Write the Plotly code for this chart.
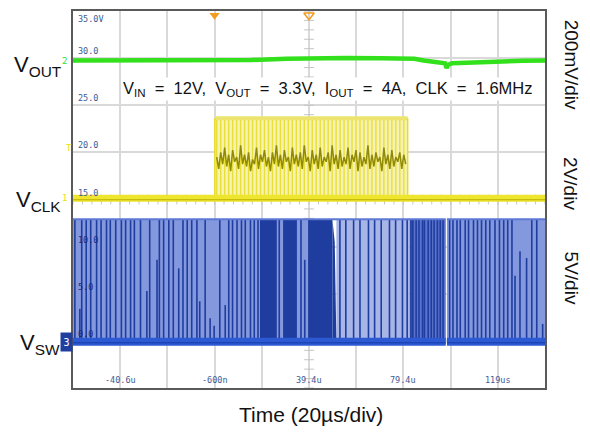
import numpy as np
import plotly.graph_objects as go

# ---------------- data ----------------
# scope screen: time in µs, vertical screen units (5 units per division)
t_left, t_right = -60.6, 139.4
time_label_vals = [-40.6, -0.6, 39.4, 79.4, 119.4]
time_label_text = ["-40.6u", "-600n", "39.4u", "79.4u", "119us"]
screen_label_vals = [35, 30, 25, 20, 15, 10, 5, 0]
screen_label_text = ["35.0V", "30.0", "25.0", "20.0", "15.0", "10.0", "5.0", "0.0"]

# channel offsets (screen units) and scales (per division)
vout_offset, vout_mv_per_div = 29.75, 200.0
clk_offset, clk_v_per_div = 15.0, 2.0
sw_offset, sw_v_per_div = 0.0, 5.0
clk_trigger_v = 1.7

# VOUT (ch2): deviation from 3.3 V in mV
vout_t = [-60.6, -0.5, 15, 30, 40, 55, 70, 84, 88, 92, 95.5, 97.0, 97.7, 98.4, 100, 104, 112, 122, 130, 139.4]
vout_mv = [0, 0, 2, 7, 10, 11, 10, 7, 0, -5, -7, -12, -32, -18, -12, -10, -8, -4, -1, 0]

# CLK (ch1)
clk_low_v, clk_high_v = 0.05, 3.45
clk_burst_start, clk_burst_end = -0.5, 81.2
clk_mid_v = [1.8, 1.3, 2.0, 1.5, 2.2, 1.4, 1.9, 1.2, 2.1, 1.6, 1.8, 1.3, 2.3, 1.5, 1.9, 1.4,
             2.0, 1.2, 1.7, 1.5, 2.2, 1.3, 1.9, 1.6, 2.1, 1.4, 1.8, 1.2, 2.0, 1.5, 2.3, 1.4,
             1.9, 1.3, 2.1, 1.6, 1.8, 1.2, 2.2, 1.5, 1.9, 1.4, 2.0, 1.3, 2.3, 1.6, 1.8, 1.2,
             2.1, 1.5, 1.9, 1.3, 2.2, 1.4, 1.8, 1.6, 2.0, 1.2, 2.3, 1.5, 1.9, 1.3, 2.1, 1.4,
             1.8, 1.5, 2.2, 1.3, 1.9, 1.6, 2.1, 1.2, 2.0, 1.4, 1.8, 1.5, 2.3, 1.3, 1.9, 1.4,
             2.0, 1.6, 1.8, 1.2, 2.2, 1.5, 1.9, 1.3, 2.1, 1.4, 1.8, 1.6, 2.0, 1.3, 1.9, 1.5]

# VSW (ch3)
sw_low_v, sw_high_v = 0.0, 12.9
sw_seg_start = [-60.6, 97.85]
sw_seg_end = [97.35, 139.4]
sw_zone_start = [-60.6, 25.8, 34.3, 51.0, 82.0, 97.85]
sw_zone_end = [18.6, 28.4, 39.0, 82.0, 97.35, 139.4]
sw_zone_kind = ["mid", "mid", "mid", "light", "dense", "mid"]
sw_block_start = [18.6, 28.4, 39.0]
sw_block_end = [25.8, 34.3, 49.3]
sw_tail_t = [49.3, 50.3, 51.0]
sw_tail_v = [12.9, 10.5, 0.0]
sw_pulse_t = [-59.8, -57.7, -56.9, -55.0, -53.1, -50.6, -48.7, -46.4, -44.8, -42.5, -40.1, -38.3,
              -36.2, -34.6, -32.0, -29.3, -28.1, -25.0, -24.0, -22.2, -20.0, -18.1, -15.8, -14.0,
              -12.2, -10.3, -8.1, -6.9, -4.6, -2.5, -0.8, 1.6, 3.9, 5.4, 7.0, 8.9, 10.8, 12.4,
              14.6, 16.2, 17.8, 26.8, 36.0, 37.6, 52.5, 55.0, 58.3, 61.0, 64.6, 67.2, 70.0,
              73.5, 76.1, 79.0, 81.0, 82.6, 83.4, 84.8, 86.0, 87.5, 88.3, 89.9, 91.2, 92.4,
              93.8, 95.0, 96.2, 99.0, 100.4, 102.1, 103.5, 105.6, 107.0, 109.1, 110.8, 112.5,
              114.3, 116.0, 118.2, 120.1, 121.9, 123.6, 125.4, 126.7, 128.8, 131.6, 133.8,
              135.9, 138.4]
sw_pulse_top = [12.9, 3.4, 12.9, 12.9, 12.9, 12.9, 12.9, 12.9, 12.9, 12.9, 12.9, 12.9,
                12.9, 12.9, 12.9, 5.3, 12.9, 8.6, 12.9, 12.9, 12.9, 12.9, 7.7, 12.9,
                12.9, 12.9, 12.9, 4.2, 12.9, 2.4, 1.6, 12.9, 3.8, 12.9, 12.9, 12.9, 12.9, 12.9,
                12.9, 12.9, 12.9, 12.9, 12.9, 8.6, 12.9, 12.9, 12.9, 12.9, 12.9, 12.9, 12.9,
                12.9, 12.9, 12.9, 12.9, 12.9, 12.9, 12.9, 12.9, 12.9, 12.9, 12.9, 12.9, 12.9,
                12.9, 12.9, 12.9, 12.9, 12.9, 12.9, 12.9, 12.9, 12.9, 12.9, 12.9, 12.9,
                12.9, 12.9, 12.9, 12.9, 12.9, 12.9, 12.9, 6.9, 9.5, 8.8, 12.9,
                12.9, 1.8]

# ---------------- styles ----------------
GREEN = "#33e01c"
YEL = "#eee52e"
YEL_PALE = "#f6f2b2"
OLIVE = "#908a06"
BLUE_DARK = "#1f3d9f"
BLUE_BAND = "#2d5ad2"
zone_color = {"mid": "#8498de", "light": "#a8b5e7", "dense": "#5a73cc"}
LABEL = "#3e5a96"
FONT = "Liberation Sans, Arial, sans-serif"
MONO = "DejaVu Sans Mono, monospace"

L, R, T, B = 73, 45, 9, 44
W, H = 590, 432
PW, PH = W - L - R, H - T - B


def scr(v, off, per_div):
    return (off + np.asarray(v, dtype=float) / per_div * 5.0).tolist()


def px(xp):
    return (xp - L) / PW


def py(yp):
    return (H - B - yp) / PH


traces = []


def poly(xs, ys, color):
    traces.append(go.Scatter(x=xs, y=ys, mode="lines", fill="toself", fillcolor=color,
                             line=dict(width=0), hoverinfo="skip", showlegend=False))


def line(xs, ys, color, width):
    traces.append(go.Scatter(x=xs, y=ys, mode="lines", line=dict(color=color, width=width),
                             hoverinfo="skip", showlegend=False, connectgaps=False))


# center crosshair ticks
xc = (t_left + t_right) / 2
yc = 15.0
traces.append(go.Scatter(x=[xc] * 41, y=list(np.arange(-5, 35.01, 1.0)), mode="markers",
                         marker=dict(symbol="line-ew", size=7, line=dict(width=1, color="#c4c4c4")),
                         hoverinfo="skip", showlegend=False))
traces.append(go.Scatter(x=list(np.arange(t_left, t_right + 0.01, 4.0)), y=[yc] * 51, mode="markers",
                         marker=dict(symbol="line-ns", size=7, line=dict(width=1, color="#c4c4c4")),
                         hoverinfo="skip", showlegend=False))

# ---- VSW ----
sw_lo = scr(sw_low_v, sw_offset, sw_v_per_div)
sw_hi = scr(sw_high_v, sw_offset, sw_v_per_div)
for a, b, k in zip(sw_zone_start, sw_zone_end, sw_zone_kind):
    poly([a, b, b, a, a], [sw_lo, sw_lo, sw_hi, sw_hi, sw_lo], zone_color[k])
for a, b in zip(sw_block_start, sw_block_end):
    poly([a, b, b, a, a], [sw_lo, sw_lo, sw_hi, sw_hi, sw_lo], BLUE_DARK)
tail_y = scr(sw_tail_v, sw_offset, sw_v_per_div)
poly([sw_tail_t[0]] + sw_tail_t + [sw_tail_t[0]], [sw_lo] + tail_y + [sw_lo], BLUE_DARK)
px_x, px_y = [], []
for t, top in zip(sw_pulse_t, sw_pulse_top):
    px_x += [t, t, None]
    px_y += [sw_lo, scr(top, sw_offset, sw_v_per_div), None]
line(px_x, px_y, BLUE_DARK, 1.6)
for a, b in zip(sw_seg_start, sw_seg_end):
    line([a, b], [sw_hi, sw_hi], "#5d79d4", 2)
    line([a, b], [sw_lo - 0.1, sw_lo - 0.1], BLUE_BAND, 8)
    line([a, b], [sw_lo - 0.2, sw_lo - 0.2], "#1c44b8", 1.5)

# ---- CLK ----
c_lo = scr(clk_low_v, clk_offset, clk_v_per_div)
c_hi = scr(clk_high_v, clk_offset, clk_v_per_div)
b0, b1 = clk_burst_start, clk_burst_end
poly([b0, b1, b1, b0, b0], [c_lo, c_lo, c_hi, c_hi, c_lo], YEL_PALE)
st = np.linspace(b0 + 0.8, b1 - 0.8, len(clk_mid_v)).tolist()
sx, sy = [], []
for t in st[::2]:
    sx += [t, t, None]
    sy += [c_lo, c_hi, None]
line(sx, sy, "#e9df3a", 1.4)
line(st, scr(clk_mid_v, clk_offset, clk_v_per_div), OLIVE, 1.5)
line([b0, b1], [c_hi, c_hi], "#ece46e", 4)
line([b0, b0], [c_lo, c_hi], "#e6dc2a", 1.5)
line([b1, b1], [c_lo, c_hi], "#e6dc2a", 1.5)
line([t_left, t_right], [c_lo, c_lo], YEL, 7)
line([t_left, t_right], [c_lo - 0.15, c_lo - 0.15], "#bdb100", 1)

# ---- VOUT ----
line(vout_t, scr(vout_mv, vout_offset, vout_mv_per_div), GREEN, 4.5)

# trigger markers at top
traces.append(go.Scatter(x=[-0.6], y=[34.55], mode="markers", cliponaxis=False,
                         marker=dict(symbol="triangle-down", size=9, color="#f39c1e"),
                         hoverinfo="skip", showlegend=False))
traces.append(go.Scatter(x=[xc], y=[34.55], mode="markers", cliponaxis=False,
                         marker=dict(symbol="triangle-down-open", size=9, color="#f39c1e",
                                     line=dict(width=1.5)),
                         hoverinfo="skip", showlegend=False))
# channel ground / trigger-level markers at left edge
traces.append(go.Scatter(x=[t_left - 0.9, t_left - 0.9, t_left - 0.9],
                         y=[scr(0, vout_offset, vout_mv_per_div), c_lo,
                            scr(clk_trigger_v, clk_offset, clk_v_per_div)], mode="markers",
                         cliponaxis=False,
                         marker=dict(symbol="triangle-right", size=7, color=[GREEN, "#e8de10", "#e8de10"]),
                         hoverinfo="skip", showlegend=False))

fig = go.Figure(traces)

ann = []
for v, s in zip(screen_label_vals, screen_label_text):
    ann.append(dict(x=t_left, y=v, xref="x", yref="y", text=s, showarrow=False,
                    xanchor="left", yanchor="top" if v == 35 else "bottom", xshift=3,
                    yshift=-1 if v == 35 else 0,
                    font=dict(family=MONO, size=8.5, color="#1a2d80" if v <= 10 else LABEL)))
for v, s in zip(time_label_vals, time_label_text):
    ann.append(dict(x=v, y=-5, xref="x", yref="y", text=s, showarrow=False,
                    xanchor="center", yanchor="bottom", yshift=1,
                    font=dict(family=MONO, size=8.5, color=LABEL)))

sp = "\u00a0\u00a0"
ann.append(dict(x=px(327), y=py(87), xref="paper", yref="paper",
                text=f"V<sub>IN</sub>{sp}={sp}12V,{sp}V<sub>OUT</sub>{sp}={sp}3.3V,{sp}"
                     f"I<sub>OUT</sub>{sp}={sp}4A,{sp}CLK{sp}={sp}1.6MHz",
                showarrow=False, bgcolor="white", xanchor="center", yanchor="middle",
                font=dict(family=FONT, size=16.5, color="#111")))

for txt, xp, yp in [("V<sub>OUT</sub>", 38, 64), ("V<sub>CLK</sub>", 38, 200), ("V<sub>SW</sub>", 40, 344)]:
    ann.append(dict(x=px(xp), y=py(yp), xref="paper", yref="paper", text=txt, showarrow=False,
                    xanchor="center", yanchor="middle", font=dict(family=FONT, size=22, color="#111")))

for txt, yp in [("200mV/div", 63), ("2V/div", 182), ("5V/div", 277)]:
    ann.append(dict(x=px(571), y=py(yp), xref="paper", yref="paper", text=txt, showarrow=False,
                    textangle=90, xanchor="center", yanchor="middle",
                    font=dict(family=FONT, size=19, color="#111")))

ann.append(dict(x=px(311), y=py(415), xref="paper", yref="paper", text="Time (20µs/div)",
                showarrow=False, xanchor="center", yanchor="middle",
                font=dict(family=FONT, size=21, color="#111")))

# channel number tags
ann.append(dict(x=px(64), y=py(59), xref="paper", yref="paper", text="2", showarrow=False,
                xanchor="center", yanchor="middle",
                font=dict(family=MONO, size=9, color=GREEN)))
ann.append(dict(x=px(64), y=py(197), xref="paper", yref="paper", text="1", showarrow=False,
                xanchor="center", yanchor="middle",
                font=dict(family=MONO, size=9, color="#e8de10")))
ann.append(dict(x=px(69), y=py(147), xref="paper", yref="paper", text="T", showarrow=False,
                xanchor="center", yanchor="middle",
                font=dict(family=MONO, size=9, color="#e8de10")))
ann.append(dict(x=px(66.5), y=py(342), xref="paper", yref="paper", text="3", showarrow=False,
                xanchor="center", yanchor="middle",
                bgcolor="#1f3f9f", width=11, height=18, borderpad=0,
                font=dict(family=MONO, size=10, color="white")))

fig.update_layout(
    width=W, height=H, margin=dict(l=L, r=R, t=T, b=B),
    paper_bgcolor="white", plot_bgcolor="white", showlegend=False,
    annotations=ann,
    xaxis=dict(range=[t_left, t_right], tick0=t_left, dtick=20, showgrid=True,
               gridcolor="#d9d9d9", gridwidth=1.5, zeroline=False, showticklabels=False,
               ticks="", showline=True, linecolor="#5a5a5a", linewidth=1.5, mirror=True, fixedrange=True),
    yaxis=dict(range=[-5, 35], tick0=-5, dtick=5, showgrid=True, gridcolor="#d9d9d9",
               gridwidth=1.5, zeroline=False, showticklabels=False, ticks="",
               showline=True, linecolor="#5a5a5a", linewidth=1.5, mirror=True, fixedrange=True),
)
fig.write_html("out.html", config={"displayModeBar": False},
               post_script="document.body.style.margin='0px';document.body.style.overflow='hidden';")
